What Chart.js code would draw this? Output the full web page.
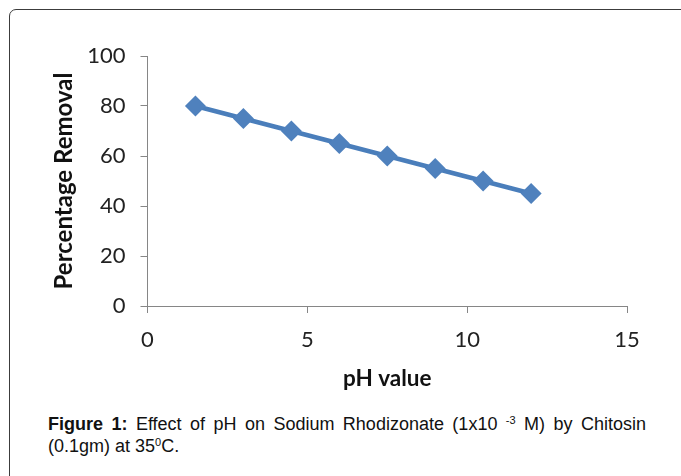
<!DOCTYPE html>
<html>
<head>
<meta charset="utf-8">
<script src="https://cdn.jsdelivr.net/npm/chart.js@4/dist/chart.umd.min.js"></script>
<style>
  html, body { margin: 0; padding: 0; background: #fff; }
  body { width: 681px; height: 476px; overflow: hidden; position: relative; }
  #frame {
    position: absolute; left: 9px; top: 9px; width: 720px; height: 520px;
    border: 1.5px solid #3c3c3c; border-radius: 7px; box-sizing: border-box;
  }
  #phChart { position: absolute; left: 0; top: 0; }
  .caption {
    position: absolute; left: 48px; width: 598px;
    font-family: "Liberation Sans", Arial, sans-serif; font-size: 18px;
    line-height: 22px; color: #111;
  }
  .caption sup { font-size: 11px; vertical-align: 6px; line-height: 0; }
  #line1 { top: 413px; text-align: justify; text-align-last: justify; white-space: nowrap; }
  #line2 { top: 435px; }
</style>
</head>
<body>
<div id="frame"></div>
<canvas id="phChart" width="681" height="400"></canvas>
<div class="caption" id="line1"><b>Figure 1:</b> Effect of pH on Sodium Rhodizonate (1x10 <sup>-3</sup> M) by Chitosin</div>
<div class="caption" id="line2">(0.1gm) at 35<sup>0</sup>C.</div>
<script>
// pH vs percentage removal
const phValues = [1.5, 3, 4.5, 6, 7.5, 9, 10.5, 12];
const removal = [80, 75, 70, 65, 60, 55, 50, 45];
const xTicks = [0, 5, 10, 15];
const yTicks = [0, 20, 40, 60, 80, 100];

const axisColor = '#868686';
const lineBlue = '#4A7EBB';

function initPhChart() {
    const ctx = document.getElementById('phChart').getContext('2d');
    new Chart(ctx, {
        type: 'scatter',
        data: {
            datasets: [{
                data: phValues.map((x, i) => ({ x: x, y: removal[i] })),
                showLine: true,
                borderColor: lineBlue,
                borderWidth: 4.5,
                backgroundColor: '#4F81BD',
                pointStyle: 'rectRot',
                pointRadius: 10.5,
                pointBorderWidth: 0,
                pointHoverRadius: 10.5
            }]
        },
        options: {
            responsive: false,
            devicePixelRatio: 1,
            animation: false,
            layout: { padding: { left: 0, right: 54, top: 56, bottom: 0 } },
            plugins: { legend: { display: false }, tooltip: { enabled: false } },
            scales: {
                x: {
                    type: 'linear',
                    min: xTicks[0],
                    max: xTicks[xTicks.length - 1],
                    afterBuildTicks: s => { s.ticks = xTicks.map(v => ({ value: v })); },
                    afterFit: s => { s.height = 94; },
                    grid: { drawOnChartArea: false, tickLength: 7, color: axisColor },
                    border: { color: axisColor, width: 1 },
                    ticks: { padding: 14, color: '#222', font: { family: 'Lato', size: 22 } },
                    title: {
                        display: true, text: 'pH value', color: '#111',
                        font: { family: 'Lato', size: 22.5, weight: 'bold' },
                        padding: { top: 0, bottom: 7.5 }
                    }
                },
                y: {
                    min: yTicks[0],
                    max: yTicks[yTicks.length - 1],
                    afterBuildTicks: s => { s.ticks = yTicks.map(v => ({ value: v })); },
                    afterFit: s => { s.width = 147.5; },
                    grid: { drawOnChartArea: false, tickLength: 7, color: axisColor },
                    border: { color: axisColor, width: 1 },
                    ticks: { padding: 15, color: '#222', font: { family: 'Lato', size: 22 } },
                    title: {
                        display: true, text: 'Percentage Removal', color: '#111',
                        font: { family: 'Lato', size: 24, weight: 'bold' },
                        padding: { top: 50, bottom: 0 }
                    }
                }
            }
        }
    });
}

initPhChart();
</script>
</body>
</html>
